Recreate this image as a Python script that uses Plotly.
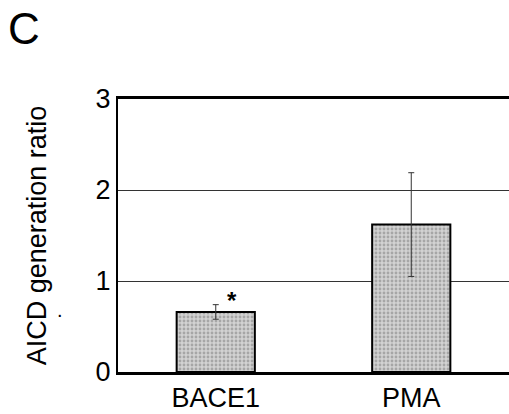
import plotly.graph_objects as go

categories = ["BACE1", "PMA"]
values = [0.66, 1.62]
errors = [0.08, 0.57]
y_ticks = [0, 1, 2, 3]
star_label = "*"
panel_label = "C"
y_title = "AICD generation ratio"

FONT = "Liberation Sans, Arial"

fig = go.Figure()
fig.add_trace(go.Bar(
    x=categories, y=values,
    width=0.4,
    marker=dict(
        color="#cccccc",
        line=dict(color="black", width=2),
        pattern=dict(shape=".", fgcolor="#7a7a7a", bgcolor="#d2d2d2", size=4, solidity=0.4),
    ),
    error_y=dict(type="data", array=errors, visible=True, color="#333", thickness=1, width=3),
    showlegend=False,
))

fig.add_annotation(x=0, y=values[0] + errors[0], text="<b>" + star_label + "</b>", showarrow=False,
                   xshift=16, yshift=4, font=dict(size=24, color="black", family=FONT))
fig.add_annotation(xref="paper", yref="paper", x=-0.24, y=1.26, text=panel_label, showarrow=False,
                   xanchor="center", yanchor="middle", font=dict(size=44, color="black", family=FONT))
fig.add_annotation(xref="paper", yref="paper", x=-0.162, y=0.18, text=".", showarrow=False,
                   font=dict(size=20, color="black", family=FONT))

fig.update_layout(
    width=509, height=414,
    margin=dict(l=118, r=0, t=99, b=42),
    paper_bgcolor="white", plot_bgcolor="white",
    font=dict(family=FONT, color="black", size=27),
    xaxis=dict(range=[-0.5, 1.5], showline=True, linecolor="black", linewidth=3, mirror=True,
               showgrid=False, ticks="", tickfont=dict(size=27)),
    yaxis=dict(range=[0, 3], tickvals=y_ticks, showline=True, linecolor="black", linewidth=2,
               showgrid=True, gridcolor="#333", gridwidth=1, zeroline=False, ticks="",
               tickfont=dict(size=27),
               title=dict(text=y_title, font=dict(size=27), standoff=41)),
)

fig.write_html("out.html")
